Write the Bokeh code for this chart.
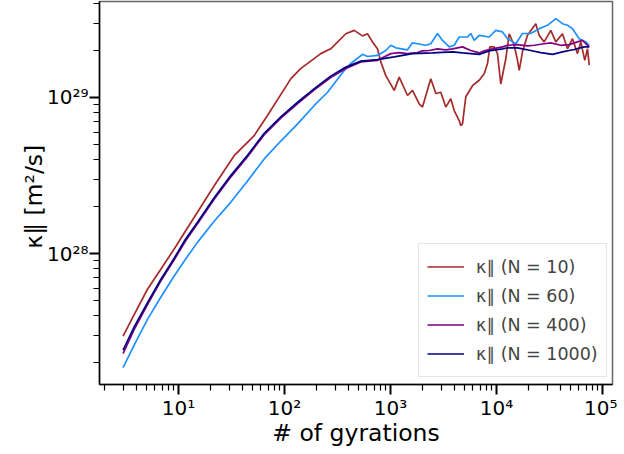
from bokeh.plotting import figure
from bokeh.models import FixedTicker, CustomJSTickFormatter, Legend, LegendItem, Range1d
from bokeh.embed import file_html
from bokeh.resources import INLINE

# ---- data (number of gyrations, kappa_parallel in m^2/s) ----
x_n10 = [3, 3.85, 5.1, 6.76, 9.11, 11.6, 15.1, 21.7, 33.5, 51.8, 69.1, 115, 142, 220, 273,
         379, 454, 544, 607, 676, 754, 810, 903, 1084, 1208, 1447, 1613, 1866, 2004, 2400,
         2676, 2982, 3323, 3706, 3990, 4448, 4605, 4777, 5133, 5937, 6868, 7656, 8227, 8647,
         9513, 10220, 10980, 12240, 13180, 14690, 15780, 16380, 17590, 19610, 23490, 25290,
         28180, 32530, 36260, 41950, 46750, 52120, 58090, 62430, 68070, 72230, 75000]
y_n10 = [2.96e27, 4.11e27, 5.91e27, 7.88e27, 1.07e28, 1.39e28, 1.84e28, 2.72e28, 4.24e28,
         5.70e28, 7.66e28, 1.32e29, 1.53e29, 1.91e29, 2.05e29, 2.56e29, 2.69e29, 2.48e29,
         2.56e29, 2.27e29, 2.05e29, 1.69e29, 1.38e29, 1.11e29, 1.35e29, 1.03e29, 1.11e29,
         9.11e28, 8.68e28, 1.32e29, 1.06e29, 1.08e29, 8.68e28, 9.81e28, 8.25e28, 7.11e28,
         6.61e28, 6.78e28, 1.01e29, 1.19e29, 1.29e29, 1.42e29, 1.65e29, 2.11e29, 2.11e29,
         1.91e29, 1.22e29, 1.77e29, 2.56e29, 2.16e29, 1.73e29, 1.49e29, 1.96e29, 2.50e29,
         2.97e29, 2.50e29, 2.27e29, 2.69e29, 2.27e29, 2.56e29, 2.05e29, 2.38e29, 1.91e29,
         2.27e29, 1.73e29, 2.05e29, 1.61e29]

x_n60 = [3, 3.85, 5.1, 6.76, 9.11, 11.6, 15.1, 21.7, 31.1, 44.8, 64.4, 92.3, 133, 191, 255,
         366, 422, 544, 607, 754, 903, 1007, 1122, 1447, 1613, 1797, 2153, 2400, 2775, 3095,
         3579, 3990, 4448, 5325, 5721, 6160, 6868, 8534, 9849, 11390, 12700, 15210, 17590,
         21070, 25290, 30280, 36260, 41950, 46750, 52120, 60300, 69580, 75000]
y_n60 = [1.86e27, 2.62e27, 3.79e27, 5.21e27, 7.19e27, 9.17e27, 1.18e28, 1.61e28, 2.13e28,
         2.92e28, 4.04e28, 5.26e28, 6.78e28, 8.89e28, 1.08e29, 1.49e29, 1.65e29, 1.89e29,
         1.83e29, 1.86e29, 2.00e29, 2.16e29, 2.08e29, 2.02e29, 2.24e29, 2.21e29, 2.16e29,
         2.21e29, 2.57e29, 2.32e29, 2.11e29, 2.16e29, 2.44e29, 2.44e29, 2.57e29, 2.32e29,
         2.50e29, 2.44e29, 2.69e29, 2.63e29, 2.38e29, 2.21e29, 2.57e29, 2.57e29, 2.76e29,
         2.90e29, 3.20e29, 2.97e29, 2.90e29, 2.76e29, 2.38e29, 2.27e29, 2.16e29]

x_n400 = [3, 3.85, 5.1, 6.76, 9.11, 11.6, 15.1, 21.7, 31.1, 44.8, 64.4, 92.3, 133, 191, 273,
          376, 525, 754, 1007, 1208, 1447, 1797, 2004, 2318, 2775, 3323, 3845, 4777, 5721,
          6868, 7656, 9170, 11390, 12700, 15780, 19610, 22680, 28180, 32530, 40430, 48510,
          58090, 64760, 72230, 75000]
y_n400 = [2.29e27, 3.30e27, 4.72e27, 6.62e27, 9.12e27, 1.20e28, 1.55e28, 2.23e28, 3.09e28,
          4.18e28, 5.77e28, 7.37e28, 9.14e28, 1.12e29, 1.34e29, 1.53e29, 1.69e29, 1.73e29,
          1.91e29, 1.94e29, 1.91e29, 1.94e29, 1.99e29, 2.00e29, 2.05e29, 2.02e29, 2.05e29,
          2.11e29, 2.00e29, 1.93e29, 1.99e29, 2.05e29, 2.11e29, 2.16e29, 2.18e29, 2.14e29,
          2.16e29, 2.21e29, 2.24e29, 2.16e29, 2.18e29, 2.27e29, 2.32e29, 2.16e29, 2.11e29]

x_n1000 = [3, 3.85, 5.1, 6.76, 9.11, 11.6, 15.1, 21.7, 31.1, 44.8, 64.4, 92.3, 133, 191, 273,
           376, 525, 754, 1084, 1613, 2490, 3845, 4777, 6868, 8534, 11390, 12700, 15780,
           21070, 26180, 33760, 41950, 54080, 67200, 75000]
y_n1000 = [2.41e27, 3.43e27, 4.85e27, 6.77e27, 9.34e27, 1.23e28, 1.59e28, 2.28e28, 3.16e28,
           4.27e28, 5.89e28, 7.52e28, 9.32e28, 1.14e29, 1.37e29, 1.56e29, 1.71e29, 1.75e29,
           1.82e29, 1.91e29, 1.93e29, 1.96e29, 1.93e29, 1.89e29, 1.99e29, 2.05e29, 2.08e29,
           2.08e29, 2.00e29, 1.94e29, 1.89e29, 1.96e29, 2.03e29, 2.11e29, 2.11e29]

labels = ["κ∥ (N = 10)", "κ∥ (N = 60)", "κ∥ (N = 400)", "κ∥ (N = 1000)"]
colors = ["#a52a2a", "#1e90ff", "#800080", "#000080"]

x_major = [1e1, 1e2, 1e3, 1e4, 1e5]
y_major = [1e28, 1e29]

FONT = "DejaVu Sans"

p = figure(width=617, height=450, x_axis_type="log", y_axis_type="log",
           x_range=Range1d(1.798, 1.243e5), y_range=Range1d(1.45e27, 4.12e29),
           output_backend="svg", toolbar_location=None,
           min_border_left=99, min_border_right=5, min_border_top=1, min_border_bottom=66)
p.background_fill_color = "white"
p.border_fill_color = "white"
p.grid.visible = False
p.outline_line_color = "#666666"
p.outline_line_width = 1.5

series = [(x_n10, y_n10), (x_n60, y_n60), (x_n400, y_n400), (x_n1000, y_n1000)]
items = []
for (xs, ys), lab, col in zip(series, labels, colors):
    r = p.line(xs, ys, line_color=col, line_width=1.7)
    items.append(LegendItem(label=lab, renderers=[r]))

x_minor = [m * 10 ** e for e in range(0, 5) for m in range(2, 10)]
y_minor = [m * 10 ** e for e in range(27, 30) for m in range(2, 10)]
p.xaxis.ticker = FixedTicker(ticks=x_major, minor_ticks=x_minor)
p.yaxis.ticker = FixedTicker(ticks=y_major, minor_ticks=y_minor)

fmt_code = """
const sup = {"0":"⁰","1":"¹","2":"²","3":"³","4":"⁴","5":"⁵","6":"⁶","7":"⁷","8":"⁸","9":"⁹","-":"⁻"};
const e = Math.round(Math.log10(tick));
return "10" + String(e).split("").map(c => sup[c]).join("");
"""
for ax in (p.xaxis[0], p.yaxis[0]):
    ax.formatter = CustomJSTickFormatter(code=fmt_code)
    ax.major_tick_out = 10
    ax.major_tick_in = 0
    ax.minor_tick_out = 6
    ax.minor_tick_in = 0
    ax.major_tick_line_width = 2
    ax.minor_tick_line_width = 1.2
    ax.axis_line_width = 1.5
    ax.axis_line_color = "black"
    ax.major_label_text_font = FONT
    ax.major_label_text_font_size = "20px"
    ax.major_label_text_color = "black"
    ax.major_label_standoff = 1
    ax.axis_label_text_font = FONT
    ax.axis_label_text_font_size = "23.5px"
    ax.axis_label_text_font_style = "normal"
    ax.axis_label_text_color = "black"
    ax.axis_label_standoff = -4

p.xaxis.axis_label = "# of gyrations"
p.yaxis.axis_label = "κ∥  [m²/s]"

legend = Legend(items=items, location=(319, 7))
legend.border_line_color = "#cccccc"
legend.border_line_width = 1
legend.background_fill_alpha = 0.85
legend.label_text_font = FONT
legend.label_text_font_size = "17.5px"
legend.glyph_width = 37
legend.glyph_height = 29
legend.label_height = 29
legend.spacing = 0
legend.padding = 8
legend.margin = 0
legend.label_standoff = 12
p.add_layout(legend)

open("out.html", "w").write(file_html(p, INLINE))
